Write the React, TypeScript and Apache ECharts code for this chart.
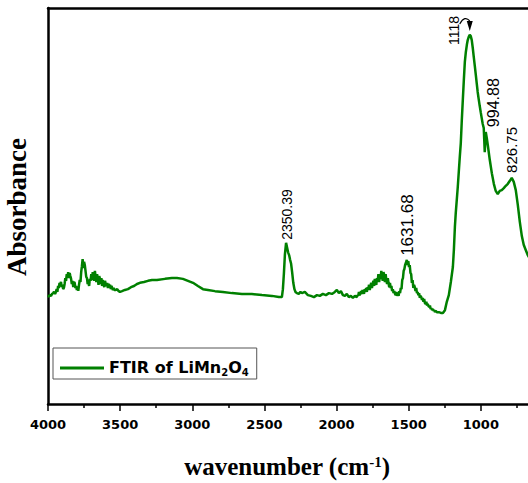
import React, { useEffect, useRef } from 'react';
import * as echarts from 'echarts';

// FTIR spectrum of LiMn2O4: [wavenumber (cm-1), absorbance (a.u.)]
const hydroxylRegion: [number, number][] = [
  [4000, 27.0], [3993, 27.3], [3986, 27.5], [3979, 27.3], [3972, 27.8], [3965, 28.0], [3958, 28.3],
  [3951, 27.8], [3945, 28.3], [3940, 29.0], [3935, 28.3], [3930, 29.8], [3925, 29.3], [3920, 30.6],
  [3915, 30.3], [3910, 30.8], [3905, 29.5], [3900, 30.1], [3895, 29.0], [3890, 29.3], [3885, 30.3],
  [3880, 31.8], [3875, 31.1], [3870, 32.8], [3865, 32.1], [3860, 33.3], [3855, 31.8], [3850, 33.1],
  [3845, 32.3], [3840, 31.6], [3835, 30.3], [3830, 31.1], [3825, 29.5], [3820, 30.8], [3815, 30.6],
  [3810, 29.3], [3805, 29.8], [3800, 28.8], [3795, 29.3], [3790, 28.6], [3785, 30.1], [3780, 31.3],
  [3775, 30.8], [3770, 33.3], [3765, 34.8], [3760, 36.6], [3755, 34.3], [3750, 35.9], [3745, 35.1],
  [3740, 33.6], [3735, 32.1], [3730, 31.8], [3725, 30.3], [3720, 30.8], [3715, 29.8], [3710, 31.6],
  [3705, 31.1], [3700, 32.8], [3695, 31.3], [3690, 33.3], [3685, 32.6], [3680, 31.1], [3675, 33.6],
  [3670, 32.1], [3665, 30.8], [3660, 32.8], [3655, 31.8], [3650, 30.1], [3645, 32.3], [3640, 31.6],
  [3635, 30.3], [3630, 31.8], [3625, 29.8], [3620, 31.3], [3615, 30.6], [3610, 29.5], [3605, 31.1],
  [3600, 30.3], [3595, 29.8], [3590, 30.6], [3585, 29.3], [3580, 30.3], [3575, 29.8], [3570, 30.1],
  [3565, 29.0], [3560, 29.8], [3555, 29.3], [3550, 28.8], [3545, 29.3], [3540, 28.8], [3530, 28.8],
  [3520, 29.0], [3510, 28.5], [3501, 28.3], [3487, 28.5], [3467, 28.8], [3446, 29.0], [3425, 29.5],
  [3404, 29.8], [3383, 30.3], [3363, 30.6], [3335, 30.8], [3307, 31.1], [3279, 31.3], [3245, 31.3],
];

const broadBand: [number, number][] = [
  [3189, 31.6], [3141, 31.8], [3106, 31.8], [3065, 31.6], [3030, 31.1], [2995, 30.6], [2961, 29.8],
  [2926, 29.0], [2892, 28.8], [2843, 28.5], [2788, 28.3], [2725, 28.0], [2656, 27.8], [2587, 27.8],
  [2517, 27.5], [2448, 27.3], [2400, 27.0], [2379, 27.0],
];

const co2Band: [number, number][] = [
  [2372, 29.0], [2365, 33.0], [2358, 37.8], [2350, 40.7], [2343, 39.5], [2336, 38.3], [2329, 37.6],
  [2322, 36.4], [2315, 35.4], [2308, 33.3], [2300, 30.6], [2292, 29.0], [2285, 28.3], [2275, 28.0],
  [2262, 27.8], [2250, 28.3], [2240, 28.0],
];

const plateauRegion: [number, number][] = [
  [2220, 28.3], [2199, 27.5], [2178, 27.3], [2157, 27.0], [2136, 27.5], [2116, 27.3], [2095, 27.8],
  [2074, 27.5], [2053, 28.0], [2032, 27.8], [2012, 28.3], [1998, 28.8], [1984, 28.0], [1970, 28.5],
  [1956, 27.5], [1942, 27.3], [1929, 27.8], [1915, 27.0], [1901, 27.3], [1887, 26.8], [1873, 27.3],
];

const bendingRegion: [number, number][] = [
  [1860, 27.0], [1855, 27.5], [1850, 27.3], [1845, 28.3], [1840, 27.5], [1835, 27.8], [1830, 28.5],
  [1825, 27.8], [1820, 28.8], [1815, 28.3], [1810, 27.8], [1805, 29.0], [1800, 28.5], [1795, 29.3],
  [1790, 28.3], [1785, 29.5], [1780, 29.0], [1775, 30.1], [1770, 28.8], [1765, 29.8], [1760, 30.6],
  [1755, 29.3], [1750, 30.3], [1745, 31.1], [1740, 29.8], [1735, 31.6], [1730, 30.6], [1725, 30.1],
  [1720, 31.8], [1715, 31.1], [1710, 32.8], [1705, 30.8], [1700, 32.3], [1695, 31.6], [1690, 33.6],
  [1685, 32.1], [1680, 31.1], [1675, 33.3], [1670, 32.6], [1665, 30.8], [1660, 32.8], [1655, 31.3],
  [1650, 30.3], [1645, 31.8], [1640, 30.6], [1635, 29.5], [1630, 30.6], [1625, 29.3], [1620, 29.8],
  [1615, 28.5], [1610, 29.0], [1605, 28.0], [1600, 28.5], [1595, 27.8], [1590, 27.5], [1585, 28.3],
  [1580, 27.3], [1575, 27.8], [1570, 27.3], [1565, 28.5], [1560, 28.0], [1555, 29.3], [1550, 29.0],
  [1545, 31.3], [1540, 31.8], [1535, 33.6], [1530, 34.1], [1525, 35.1], [1520, 35.6], [1515, 36.1],
  [1513, 36.4], [1508, 35.1], [1503, 36.1], [1498, 34.6], [1493, 35.1], [1488, 33.1], [1483, 32.8],
  [1478, 30.6], [1473, 31.3], [1468, 29.3], [1463, 30.1], [1458, 29.5], [1453, 28.5], [1448, 29.3],
  [1443, 28.0], [1438, 28.3], [1433, 27.5], [1428, 28.0], [1423, 26.8], [1418, 27.3], [1413, 27.0],
  [1408, 26.3], [1403, 26.8], [1398, 25.8], [1393, 26.5], [1388, 25.5], [1383, 25.3], [1378, 25.8],
  [1373, 24.9], [1368, 25.3], [1363, 24.7], [1358, 24.5], [1353, 24.9], [1348, 24.0], [1343, 24.2],
  [1338, 23.7], [1333, 24.0], [1328, 23.5], [1323, 23.7], [1318, 23.2], [1313, 23.5], [1305, 23.2],
  [1291, 23.2], [1277, 23.0], [1263, 23.0],
];

const latticeRegion: [number, number][] = [
  [1249, 23.7], [1236, 25.8], [1222, 27.5], [1208, 30.8], [1194, 34.6], [1187, 38.9], [1180, 44.7],
  [1174, 48.2], [1167, 51.5], [1160, 54.8], [1153, 58.6], [1146, 62.4], [1139, 65.9], [1132, 71.7],
  [1125, 76.8], [1118, 81.8], [1111, 86.4], [1104, 88.9], [1097, 90.7], [1091, 91.9], [1084, 92.7],
  [1077, 93.2], [1070, 92.9], [1063, 91.9], [1056, 89.9], [1049, 87.6], [1042, 85.4], [1035, 83.1],
  [1028, 80.8], [1022, 78.8], [1015, 77.0], [1008, 75.3], [1001, 73.7], [994, 72.2], [987, 70.7],
  [980, 69.7], [973, 63.6], [966, 68.7], [959, 67.2], [952, 65.4], [938, 61.6], [924, 58.3],
  [910, 55.6], [897, 53.8], [883, 53.0], [869, 53.8], [855, 54.0], [841, 54.5], [827, 55.1],
  [813, 55.6], [800, 56.3], [786, 57.1], [772, 56.1], [758, 54.0], [744, 50.3], [730, 46.0],
  [716, 42.4], [703, 40.2], [689, 38.9], [675, 37.6], [648, 35.9],
];

// Annotated bands: printed label and the wavenumber of the feature it marks
const peakLabels = ['2350.39', '1631.68', '1118', '994.88', '826.75'];
const peakWavenumbers = [2350, 1513, 1077, 973, 786];

// Axis range (wavenumber decreasing to the right)
const xMax = 4000;
const xMin = 500;
const xStep = 500;

const seriesName = 'FTIR of LiMn2O4';

// Label styling for the annotations: screen shift [dx, dy] of each rotated label
const peakFontSizes = [14, 17, 14, 16, 15];
const peakShifts: [number, number][] = [[1, -3], [1, -4], [-16, 10], [9, -25], [0, -5]];

const GREEN = '#008000';
const CHART_W = 554;
const CHART_H = 483;

export default function App() {
  const ref = useRef<HTMLDivElement>(null);

  useEffect(() => {
    if (!ref.current) return;
    const chart = echarts.init(ref.current, null, { renderer: 'svg', width: CHART_W, height: CHART_H });
    const spectrum = [
      ...hydroxylRegion,
      ...broadBand,
      ...co2Band,
      ...plateauRegion,
      ...bendingRegion,
      ...latticeRegion,
    ];
    const valueAt = (wn: number) => {
      const hit = spectrum.find((p) => p[0] === wn);
      return hit ? hit[1] : 0;
    };

    chart.setOption({
      animation: false,
      grid: { left: 48, right: 1, top: 8, bottom: 79, containLabel: false },
      xAxis: [
        {
          type: 'value',
          min: xMin,
          max: xMax,
          interval: xStep,
          inverse: true,
          position: 'bottom',
          axisLine: { show: true, onZero: false, lineStyle: { color: '#000', width: 2.5 } },
          axisTick: { show: true, length: 7, lineStyle: { color: '#000', width: 1.5 } },
          minorTick: { show: true, splitNumber: 2, length: 4, lineStyle: { color: '#000', width: 1.5 } },
          axisLabel: {
            margin: 14,
            color: '#000',
            fontFamily: 'DejaVu Sans',
            fontWeight: 'bold',
            fontSize: 13,
            showMinLabel: false,
            formatter: (v: number) => String(v),
          },
          splitLine: { show: false },
        },
        {
          type: 'value',
          min: xMin,
          max: xMax,
          inverse: true,
          position: 'top',
          axisLine: { show: true, onZero: false, lineStyle: { color: '#000', width: 2.5 } },
          axisTick: { show: false },
          axisLabel: { show: false },
          splitLine: { show: false },
        },
      ],
      yAxis: {
        type: 'value',
        min: 0,
        max: 100,
        axisLine: { show: true, onZero: false, lineStyle: { color: '#000', width: 2.5 } },
        axisTick: { show: false },
        axisLabel: { show: false },
        splitLine: { show: false },
      },
      legend: {
        left: 53,
        top: 348,
        padding: [3, 8, 2, 7],
        borderColor: '#555',
        borderWidth: 1,
        backgroundColor: '#fff',
        itemWidth: 44,
        itemHeight: 3,
        icon: 'rect',
        data: [seriesName],
        formatter: () => '{t|FTIR of LiMn}{s|2}{t|O}{s|4}',
        textStyle: {
          rich: {
            t: {
              fontFamily: 'DejaVu Sans',
              fontWeight: 'bold',
              fontSize: 16,
              color: '#000',
              lineHeight: 18,
              verticalAlign: 'top',
            },
            s: {
              fontFamily: 'DejaVu Sans',
              fontWeight: 'bold',
              fontSize: 10,
              color: '#000',
              lineHeight: 10,
              padding: [16, 0, 0, 0],
              verticalAlign: 'bottom',
            },
          },
        },
      },
      series: [
        {
          name: seriesName,
          type: 'line',
          xAxisIndex: 0,
          data: spectrum,
          symbol: 'none',
          color: GREEN,
          lineStyle: { color: GREEN, width: 2.5 },
          markPoint: {
            symbol: 'circle',
            symbolSize: 0,
            silent: true,
            data: peakLabels.map((label, i) => ({
              coord: [peakWavenumbers[i], valueAt(peakWavenumbers[i])],
              value: label,
              label: {
                show: true,
                formatter: label,
                position: 'top',
                distance: 0,
                rotate: 90,
                align: 'left',
                verticalAlign: 'middle',
                // offset is applied in the rotated text frame
                offset: [-peakShifts[i][1], peakShifts[i][0]],
                color: '#000',
                fontFamily: 'Liberation Sans',
                fontSize: peakFontSizes[i],
              },
            })),
          },
        },
      ],
      graphic: [
        {
          id: 'yTitle',
          type: 'text',
          x: 17,
          y: 207,
          rotation: Math.PI / 2,
          style: {
            text: 'Absorbance',
            fill: '#000',
            font: "bold 27px 'Liberation Serif'",
            align: 'center',
            verticalAlign: 'middle',
          },
        },
        {
          id: 'xTitle',
          type: 'text',
          x: 287,
          y: 466,
          style: {
            text: '{a|wavenumber (cm}{b|-1}{a|)}',
            align: 'center',
            verticalAlign: 'middle',
            rich: {
              a: { fontFamily: 'Liberation Serif', fontWeight: 'bold', fontSize: 25, fill: '#000' },
              b: { fontFamily: 'Liberation Serif', fontWeight: 'bold', fontSize: 15, fill: '#000', padding: [0, 0, 8, 0] },
            },
          },
        },
      ],
    });

    // Leader from the 1118 label down to the top of the main band
    const top = chart.convertToPixel({ xAxisIndex: 0, yAxisIndex: 0 }, [peakWavenumbers[2], valueAt(peakWavenumbers[2])]) as number[];
    if (top) {
      const [px, py] = top;
      chart.setOption({
        graphic: [
          {
            id: 'leader',
            type: 'bezierCurve',
            shape: { x1: px - 10, y1: py - 11, x2: px, y2: py - 14, cpx1: px - 5, cpy1: py - 20 },
            style: { stroke: '#000', lineWidth: 1.2, fill: 'none' },
          },
          {
            id: 'arrow',
            type: 'polygon',
            shape: { points: [[px - 3, py - 14], [px + 3, py - 14], [px, py - 4]] },
            style: { fill: '#000' },
          },
        ],
      });
    }

    return () => chart.dispose();
  }, []);

  return (
    <div style={{ position: 'absolute', left: 0, top: 0, width: 528, height: CHART_H, overflow: 'hidden', background: '#fff' }}>
      <div ref={ref} style={{ width: CHART_W, height: CHART_H }} />
    </div>
  );
}
